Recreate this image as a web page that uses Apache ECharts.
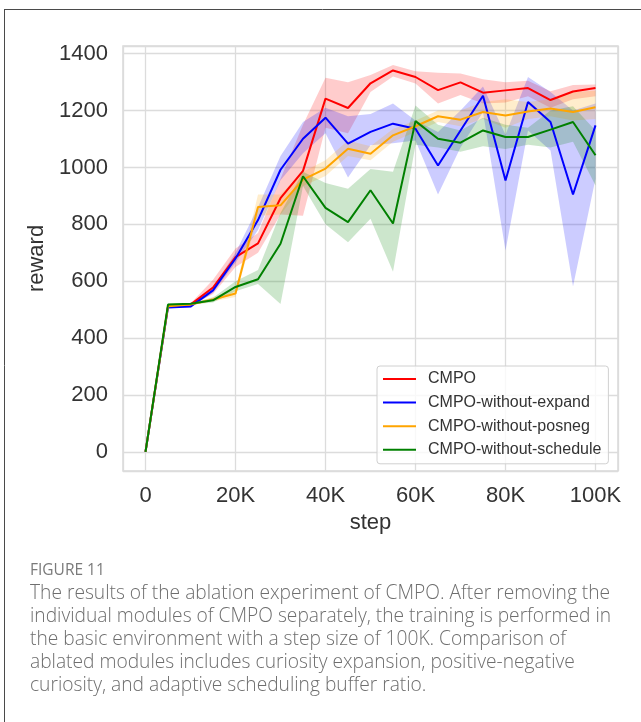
<!DOCTYPE html>
<html>
<head>
<meta charset="utf-8">
<script src="https://cdn.jsdelivr.net/npm/echarts@6/dist/echarts.min.js"></script>
<style>
  html, body { margin: 0; padding: 0; background: #ffffff; }
  #chart { width: 641px; height: 722px; }
</style>
</head>
<body>
<div id="chart"></div>
<script>
// Training steps at which reward was evaluated
const steps = [0, 5000, 10000, 15000, 20000, 25000, 30000, 35000, 40000, 45000, 50000,
               55000, 60000, 65000, 70000, 75000, 80000, 85000, 90000, 95000, 100000];

const seriesNames = ['CMPO', 'CMPO-without-expand', 'CMPO-without-posneg', 'CMPO-without-schedule'];
const seriesColors = ['#ff0000', '#0000ff', '#ffa500', '#008000'];

// CMPO: mean reward and spread
const cmpoMean = [0, 512, 518, 578, 685, 733, 892, 988, 1242, 1209, 1296, 1341, 1318, 1272, 1299, 1263, 1271, 1279, 1237, 1267, 1279];
const cmpoLow  = [0, 508, 514, 555, 650, 700, 835, 830, 1140, 1120, 1265, 1320, 1295, 1225, 1255, 1225, 1228, 1250, 1210, 1240, 1250];
const cmpoHigh = [0, 516, 522, 605, 715, 770, 960, 1150, 1315, 1300, 1325, 1360, 1338, 1333, 1330, 1310, 1300, 1305, 1268, 1290, 1292];

// CMPO without curiosity expansion
const expandMean = [0, 508, 511, 568, 680, 815, 992, 1101, 1175, 1084, 1125, 1154, 1136, 1007, 1130, 1252, 954, 1230, 1160, 905, 1148];
const expandLow  = [0, 505, 508, 560, 665, 780, 955, 1050, 1120, 965, 1078, 1085, 1095, 905, 1070, 1195, 708, 1130, 1060, 582, 960];
const expandHigh = [0, 511, 514, 578, 700, 860, 1040, 1160, 1210, 1180, 1188, 1225, 1165, 1125, 1200, 1285, 1115, 1318, 1265, 1200, 1225];

// CMPO without positive-negative curiosity
const posnegMean = [0, 512, 518, 536, 557, 861, 867, 957, 996, 1066, 1048, 1113, 1145, 1180, 1168, 1195, 1183, 1197, 1207, 1195, 1212];
const posnegLow  = [0, 510, 515, 530, 545, 830, 835, 935, 970, 1040, 1025, 1090, 1125, 1160, 1145, 1170, 1140, 1170, 1180, 1165, 1170];
const posnegHigh = [0, 514, 521, 545, 570, 905, 905, 985, 1025, 1095, 1075, 1135, 1165, 1200, 1200, 1230, 1240, 1230, 1240, 1265, 1270];

// CMPO without adaptive scheduling of the buffer ratio
const scheduleMean = [0, 518, 521, 533, 580, 607, 732, 969, 858, 808, 920, 803, 1163, 1101, 1087, 1130, 1107, 1107, 1133, 1160, 1043];
const scheduleLow  = [0, 515, 518, 525, 565, 590, 520, 935, 800, 737, 820, 633, 1080, 1070, 1055, 1075, 1065, 1080, 1070, 1090, 937];
const scheduleHigh = [0, 521, 524, 542, 600, 640, 840, 985, 945, 925, 995, 985, 1218, 1150, 1130, 1175, 1150, 1140, 1200, 1215, 1130];

const means = [cmpoMean, expandMean, posnegMean, scheduleMean];
const lows  = [cmpoLow, expandLow, posnegLow, scheduleLow];
const highs = [cmpoHigh, expandHigh, posnegHigh, scheduleHigh];

const captionTitle = 'FIGURE 11';
const captionLines = [
  'The results of the ablation experiment of CMPO. After removing the',
  'individual modules of CMPO separately, the training is performed in',
  'the basic environment with a step size of 100K. Comparison of',
  'ablated modules includes curiosity expansion, positive-negative',
  'curiosity, and adaptive scheduling buffer ratio.'
];

const FONT = '"Liberation Sans", Arial, sans-serif';

// Shaded spread: one polygon per method, following the upper bound forward and the lower bound back
function bandRenderer(fillColor) {
  return function (params, api) {
    if (params.dataIndexInside !== 0) return null;
    const n = params.dataInsideLength;
    const upper = [], lower = [];
    for (let i = 0; i < n; i++) {
      upper.push(api.coord([api.value(0, i), api.value(2, i)]));
      lower.push(api.coord([api.value(0, i), api.value(1, i)]));
    }
    return {
      type: 'polygon',
      silent: true,
      shape: { points: upper.concat(lower.reverse()) },
      style: { fill: fillColor, opacity: 0.2 }
    };
  };
}

const series = [];
seriesNames.forEach(function (name, k) {
  series.push({
    name: name + ' spread',
    type: 'custom',
    z: 1,
    silent: true,
    encode: { x: 0, y: [1, 2] },
    data: steps.map(function (s, i) { return [s, lows[k][i], highs[k][i]]; }),
    renderItem: bandRenderer(seriesColors[k])
  });
});
seriesNames.forEach(function (name, k) {
  series.push({
    name: name,
    type: 'line',
    z: 3 + k,
    symbol: 'none',
    silent: true,
    color: seriesColors[k],
    lineStyle: { color: seriesColors[k], width: 2 },
    data: steps.map(function (s, i) { return [s, means[k][i]]; })
  });
});

const chart = echarts.init(document.getElementById('chart'), null, { renderer: 'canvas' });

const graphicItems = [
  { type: 'line', silent: true, shape: { x1: 4, y1: 9.5, x2: 641, y2: 9.5 }, style: { stroke: '#4a4a4a', lineWidth: 1 } },
  { type: 'line', silent: true, shape: { x1: 4.5, y1: 9, x2: 4.5, y2: 722 }, style: { stroke: '#4a4a4a', lineWidth: 1 } },
  { type: 'text', silent: true, x: 30, y: 571,
    style: { text: captionTitle, fill: '#7a7a7a', font: '15.5px "Open Sans", sans-serif', verticalAlign: 'middle' } }
];
captionLines.forEach(function (line, i) {
  graphicItems.push({
    type: 'text', silent: true, x: 30, y: 594 + i * 23,
    style: { text: line, fill: '#6e6e6e', font: '300 19.2px "Open Sans", sans-serif', verticalAlign: 'middle' }
  });
});

chart.setOption({
  animation: false,
  backgroundColor: '#ffffff',
  grid: {
    left: 123, right: 23, top: 46, bottom: 251,
    show: true, borderColor: '#d9d9d9', borderWidth: 1.5, backgroundColor: '#ffffff'
  },
  xAxis: {
    type: 'value',
    min: -5000, max: 105000,
    minInterval: 20000, maxInterval: 20000, splitNumber: 5,
    name: 'step',
    nameLocation: 'middle',
    nameGap: 40,
    nameTextStyle: { fontFamily: FONT, fontSize: 22, color: '#333333' },
    axisLine: { show: false },
    axisTick: { show: false },
    axisLabel: {
      showMinLabel: false, showMaxLabel: false,
      margin: 14, fontFamily: FONT, fontSize: 22, color: '#333333',
      formatter: function (v) { return v === 0 ? '0' : (v / 1000) + 'K'; }
    },
    splitLine: { show: true, lineStyle: { color: '#dcdcdc', width: 1.3 } }
  },
  yAxis: {
    type: 'value',
    min: -67, max: 1427,
    minInterval: 200, maxInterval: 200, splitNumber: 7,
    name: 'reward',
    nameLocation: 'middle',
    nameGap: 72,
    nameTextStyle: { fontFamily: FONT, fontSize: 22, color: '#333333' },
    axisLine: { show: false },
    axisTick: { show: false },
    axisLabel: {
      showMinLabel: false, showMaxLabel: false,
      margin: 15, fontFamily: FONT, fontSize: 22, color: '#333333',
      formatter: function (v) { return String(v); }
    },
    splitLine: { show: true, lineStyle: { color: '#dcdcdc', width: 1.3 } }
  },
  legend: {
    data: seriesNames,
    orient: 'vertical',
    left: 377, top: 366,
    padding: [5, 7, 6, 6],
    itemGap: 7.6,
    itemWidth: 33, itemHeight: 2,
    icon: 'rect',
    backgroundColor: 'rgba(255,255,255,0.8)',
    borderColor: '#d0d0d0', borderWidth: 1, borderRadius: 3,
    selectedMode: false,
    textStyle: { fontFamily: FONT, fontSize: 16, color: '#333333', padding: [0, 0, 0, 7] }
  },
  series: series,
  graphic: graphicItems
});
</script>
</body>
</html>
